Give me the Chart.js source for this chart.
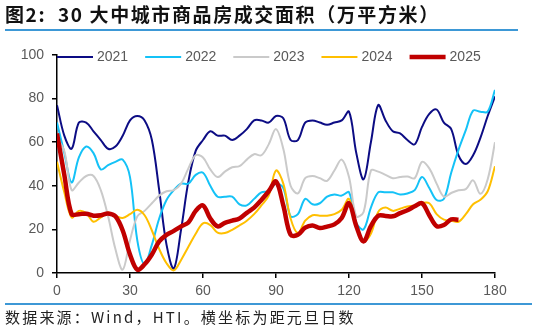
<!DOCTYPE html>
<html>
<head>
<meta charset="utf-8">
<script src="https://cdn.jsdelivr.net/npm/chart.js@4/dist/chart.umd.min.js"></script>
<style>
  body { margin: 0; background: #fff; }
  #wrap { position: relative; width: 537px; height: 331px; overflow: hidden; }
  #title {
    position: absolute; left: 5px; top: 4px; white-space: pre;
    font: bold 19px "Noto Sans CJK SC", sans-serif; line-height: 20px; color: #111;
    letter-spacing: 1.6px;
  }
  #title-rule { position: absolute; left: 5px; top: 29px; width: 513px; height: 2px; background: #3d98d6; }
  #source-rule { position: absolute; left: 5px; top: 303px; width: 527px; height: 2px; background: #3d98d6; }
  #source {
    position: absolute; left: 5px; top: 308px; white-space: pre;
    font: 15px "Noto Sans CJK SC", sans-serif; line-height: 18px; color: #222;
    letter-spacing: 2.2px;
  }
  #chart-box { position: absolute; left: 0; top: 0; width: 537px; height: 331px; }
</style>
</head>
<body>
<div id="wrap">
  <div id="chart-box"><canvas id="area-chart" width="537" height="331"></canvas></div>
  <div id="title">图2:  30 大中城市商品房成交面积（万平方米）</div>
  <div id="title-rule"></div>
  <div id="source-rule"></div>
  <div id="source">数据来源：Wind，HTI。横坐标为距元旦日数</div>
</div>
<script>
// days since new year
const days = [0, 3, 6, 9, 12, 15, 18, 21, 24, 27, 30, 33, 36, 39, 42, 45, 48, 51, 54, 57,
    60, 63, 66, 69, 72, 75, 78, 81, 84, 87, 90, 93, 96, 99, 102, 105, 108, 111, 114, 117,
    120, 123, 126, 129, 132, 135, 138, 141, 144, 147, 150, 153, 156, 159, 162, 165, 168, 171, 174, 177, 180];

const xTicks = [0, 30, 60, 90, 120, 150, 180];
const yTicks = [0, 20, 40, 60, 80, 100];

const years = ["2021", "2022", "2023", "2024", "2025"];

const area2021 = [77, 63, 57, 69, 69, 65, 61, 57, 58, 63, 70, 72, 70, 61, 38, 13, 2, 20, 42, 56,
    61, 65, 63, 63, 61, 63, 66, 70, 70, 69, 72, 71, 61, 61, 69, 70, 69, 68, 69, 70,
    74, 55, 43, 60, 77, 70, 65, 64, 61, 59, 67, 73, 75, 69, 66, 54, 50, 54, 62, 72, 81];
const area2022 = [69, 55, 41.5, 53, 58, 55, 47.5, 49.5, 51, 52, 44, 15, 4, 13, 25, 33.5, 38, 41, 41, 45,
    46, 40, 35, 35, 35, 31.5, 31, 34, 37, 37.5, 41, 39, 26, 27, 34, 31.5, 32, 35, 36, 35.5,
    37, 23, 20, 30, 37, 37, 37, 36, 36.5, 38, 44, 39, 33.5, 34, 46, 56.5, 65.5, 74.5, 74, 74, 84];
const area2023 = [62, 56, 38, 41.5, 44.5, 44.5, 38, 26, 11, 1.5, 15, 26, 28.5, 32, 35.5, 37.5, 38, 41, 48, 54,
    53, 47.5, 44, 46.5, 48.5, 49, 52, 54.5, 54, 59, 66, 57, 40, 36.5, 43.5, 44.5, 43.5, 42.3, 47, 52,
    44, 26, 28, 47, 46.5, 45, 43.5, 44, 44.3, 43.5, 51, 48, 41, 35, 36.7, 38, 38.5, 42.5, 36.3, 43, 60];
const area2024 = [51, 37, 25.5, 28.5, 27.5, 23.5, 25.5, 27.7, 26.3, 25.2, 27, 29, 26.5, 19.5, 11, 4.5, 1.2, 6, 12, 18,
    22.8, 22, 18.5, 18.3, 19.8, 21.8, 24, 27, 31, 35.5, 47, 41, 25, 18.3, 24, 26.5, 26.3, 26.3, 27, 29,
    34, 21.5, 14.5, 18, 28, 30, 28.5, 29.5, 30.5, 31, 32.1, 32, 27, 24.5, 24, 23.5, 27, 31.5, 33.6, 37.5, 49];
const area2025 = [64, 45, 27, 27, 27.2, 26.3, 26.5, 27.3, 26, 19.5, 8.5, 1.5, 4, 8.5, 14.5, 17.5, 19.3, 21.4, 23.2, 28.5,
    31, 25, 21.4, 23, 24, 25, 27.6, 30, 33.5, 37.5, 42, 31, 17.5, 17.5, 20.8, 21.8, 20.6, 21.3, 22.3, 25.2,
    32, 21.5, 14.5, 21.5, 26.2, 26.2, 26, 27.5, 28.8, 30.6, 32, 26.5, 21.5, 22, 24.6, 24.4];

const seriesValues = [area2021, area2022, area2023, area2024, area2025];
const seriesColors = ["#0c0c84", "#14c2f7", "#cacaca", "#ffbf00", "#c00000"];
const seriesWidths = [2, 2, 2, 2, 4.5];

function toPoints(values) {
    return values.map((v, i) => ({ x: days[i], y: v }));
}

// legend sits inside the plot area, on the 100 line
const insideLegend = {
    id: "insideLegend",
    afterDraw(chart) {
        const ctx = chart.ctx;
        const area = chart.chartArea;
        let x = area.left;
        const y = area.top + 2;
        ctx.save();
        ctx.font = "14px 'Liberation Sans', Arial, sans-serif";
        ctx.textBaseline = "middle";
        for (const ds of chart.data.datasets) {
            ctx.strokeStyle = ds.borderColor;
            ctx.lineWidth = ds.borderWidth;
            ctx.beginPath();
            ctx.moveTo(x, y);
            ctx.lineTo(x + 36, y);
            ctx.stroke();
            x += 40;
            ctx.fillStyle = "#595959";
            ctx.fillText(ds.label, x, y);
            x += ctx.measureText(ds.label).width + 17;
        }
        ctx.restore();
    }
};

const tickFont = { family: "'Liberation Sans', Arial, sans-serif", size: 14 };

new Chart(document.getElementById("area-chart"), {
    type: "line",
    data: {
        datasets: years.map((year, i) => ({
            label: year,
            data: toPoints(seriesValues[i]),
            borderColor: seriesColors[i],
            backgroundColor: seriesColors[i],
            borderWidth: seriesWidths[i],
            pointRadius: 0,
            tension: 0.35,
            order: years.length - i
        }))
    },
    options: {
        responsive: false,
        animation: false,
        devicePixelRatio: 1,
        layout: { padding: { left: 0, top: 55, right: 42, bottom: 33 } },
        plugins: {
            legend: { display: false },
            tooltip: { enabled: false }
        },
        scales: {
            x: {
                type: "linear",
                min: 0,
                max: 180,
                afterBuildTicks: (scale) => { scale.ticks = xTicks.map(v => ({ value: v })); },
                afterFit: (scale) => { scale.height = 25; },
                ticks: { color: "#595959", font: tickFont, padding: 5, maxRotation: 0 },
                grid: { drawOnChartArea: false, drawTicks: true, tickLength: 5, color: "#000", lineWidth: 1.5 },
                border: { color: "#000", width: 1.5 }
            },
            y: {
                min: 0,
                max: 100,
                afterBuildTicks: (scale) => { scale.ticks = yTicks.map(v => ({ value: v })); },
                afterFit: (scale) => { scale.width = 57; },
                ticks: { color: "#595959", font: tickFont, padding: 8 },
                grid: { drawOnChartArea: false, drawTicks: true, tickLength: 5, color: "#000", lineWidth: 1.5 },
                border: { color: "#000", width: 1.5 }
            }
        }
    },
    plugins: [insideLegend]
});
</script>
</body>
</html>
